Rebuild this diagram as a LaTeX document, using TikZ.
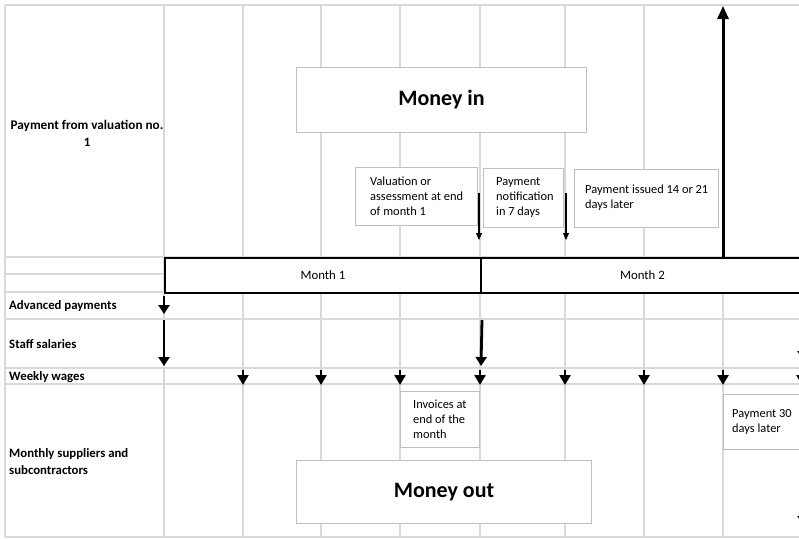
\documentclass[tikz,border=0pt]{standalone}
\usepackage{fontspec}
\setmainfont{Carlito}
\usetikzlibrary{arrows.meta}
\definecolor{gridgray}{HTML}{D9D9D9}
\definecolor{boxgray}{HTML}{BFBFBF}
\tikzset{
  gridline/.style={draw=gridgray, line width=1.2},
  notebox/.style={draw=boxgray, line width=1, fill=white, anchor=north west,
    inner sep=0pt},
  notetext/.style={anchor=west, align=left, inner sep=0pt,
    font=\fontsize{12.4}{15}\selectfont},
  bigbox/.style={draw=boxgray, line width=1, fill=white, anchor=north west,
    font=\fontsize{22}{26}\selectfont\bfseries},
  rowlabel/.style={anchor=west, align=left, inner sep=0pt,
    font=\fontsize{12.8}{17}\selectfont\bfseries},
  monthcell/.style={draw, line width=2, fill=white, anchor=north west,
    minimum height=35, inner sep=0pt, font=\fontsize{12.8}{14}\selectfont},
  bararrow/.style={line width=2.8, -{Triangle[width=11, length=9]}},
  wagearrow/.style={line width=2.8, -{Triangle[width=11, length=10]}},
  thinarrow/.style={line width=1.1, -{Triangle[width=6, length=7]}},
  uparrow/.style={line width=3, -{Triangle[width=11, length=13]}},
}
\begin{document}
\begin{tikzpicture}[x=1pt, y=-1pt]
\useasboundingbox (0,0) rectangle (799,538);
\clip (0,0) rectangle (799,538);

% sheet grid
\foreach \y in {5,257,274,292,319,368,384,537}
  \draw[gridline] (5,\y) -- (799,\y);
\foreach \x in {5,164,243,321,400,480,565,644,723}
  \draw[gridline] (\x,5) -- (\x,537);

% row labels
\node[rowlabel, anchor=center, align=center] (lblval) at (87,133)
  {\fontsize{13.2}{17}\selectfont Payment from valuation no.\\1};
\node[rowlabel] (lbladv) at (9,306) {Advanced payments};
\node[rowlabel] (lblstaff) at (9,344) {Staff salaries};
\node[rowlabel] (lblwage) at (9,377) {Weekly wages};
\node[rowlabel] (lblsupp) at (9,462) {Monthly suppliers and\\subcontractors};

% month bar
\node[monthcell, minimum width=316] (month1) at (164,257) {Month 1};
\node[monthcell, minimum width=323] (month2) at (480,257) {Month 2};

% headings
\node[bigbox, minimum width=290, minimum height=65] (moneyin) at (296,67) {Money in};
\node[bigbox, minimum width=295, minimum height=63] (moneyout) at (296,460) {Money out};

% notes: frame, then its text
\node[notebox, minimum width=122, minimum height=58] (valuation) at (355,167) {};
\node[notetext] (valuationtxt) at ([xshift=15]valuation.west)
  {Valuation or\\assessment at end\\of month 1};
\node[notebox, minimum width=80, minimum height=59] (notify) at (483,168) {};
\node[notetext] (notifytxt) at ([xshift=13]notify.west)
  {Payment\\notification\\in 7 days};
\node[notebox, minimum width=144, minimum height=58] (issued) at (574,169) {};
\node[notetext] (issuedtxt) at ([xshift=11,yshift=1]issued.west)
  {Payment issued 14 or 21\\days later};
\node[notebox, minimum width=79, minimum height=56] (invoices) at (400,391) {};
\node[notetext] (invoicestxt) at ([xshift=13]invoices.west)
  {Invoices at\\end of the\\month};
\node[notebox, minimum width=120, minimum height=55] (pay30) at (723,394) {};
\node[notetext] (pay30txt) at ([xshift=9]pay30.west)
  {Payment 30\\days later};

% arrow end points
\coordinate (valA) at (479,193);  \coordinate (valB) at (479,240);
\coordinate (notA) at (566,193);  \coordinate (notB) at (566,240);
\coordinate (payA) at (723,257);  \coordinate (payB) at (723,6);
\coordinate (advA) at (164,296);  \coordinate (advB) at (164,314);
\coordinate (stfA) at (164,320);  \coordinate (stfB) at (164,366);
\coordinate (stgA) at (482,320);  \coordinate (stgB) at (481,366);
\coordinate (edgeA) at (803,345); \coordinate (edgeB) at (803,360);
\coordinate (edgeC) at (803,510); \coordinate (edgeD) at (803,525);

% money in
\draw[thinarrow] (valA) -- (valB);
\draw[thinarrow] (notA) -- (notB);
\draw[uparrow] (payA) -- (payB);

% money out
\draw[bararrow] (advA) -- (advB);
\draw[bararrow] (stfA) -- (stfB);
\draw[bararrow] (stgA) -- (stgB);
\draw[bararrow] (edgeA) -- (edgeB);
\foreach \x in {243,321,400,480,565,644,723,802}
  \draw[wagearrow] (\x,370) coordinate (w\x) -- (\x,385) coordinate (wend\x);
\draw[bararrow] (edgeC) -- (edgeD);
\end{tikzpicture}
\end{document}
